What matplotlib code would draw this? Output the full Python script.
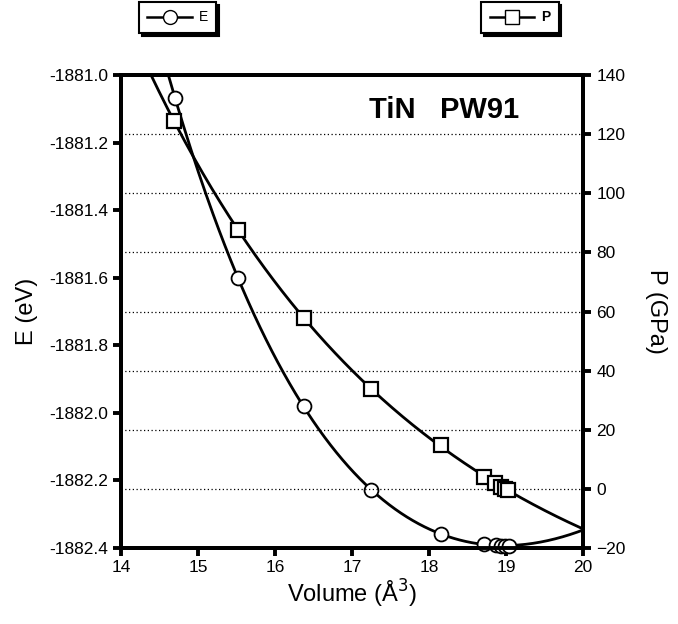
import numpy as np
import matplotlib
matplotlib.use("Agg")
import matplotlib.pyplot as plt
from matplotlib.lines import Line2D

plt.rcParams['font.family'] = ['Liberation Sans', 'DejaVu Sans']

# --- data ---
vol_E = [14.70, 15.52, 16.37, 17.25, 18.15, 18.72, 18.87, 18.94, 18.99, 19.04]
energy = [-1881.067, -1881.601, -1881.981, -1882.228, -1882.358,
          -1882.389, -1882.392, -1882.393, -1882.393, -1882.393]

vol_P = [14.69, 15.52, 16.37, 17.25, 18.16, 18.72, 18.86, 18.94, 18.99, 19.03]
pressure = [124.4, 87.6, 57.7, 33.7, 14.8, 4.1, 2.1, 0.5, -0.05, -0.4]

e_ticks = [-1881.0, -1881.2, -1881.4, -1881.6, -1881.8, -1882.0, -1882.2, -1882.4]
p_ticks = [140, 120, 100, 80, 60, 40, 20, 0, -20]

# --- Birch-Murnaghan style fits (cubic in V^-2/3) ---
vE = np.array(vol_E)
cE = np.polyfit(vE ** (-2 / 3), energy, 3)
vP = np.array(vol_P)
xP = vP ** (-2 / 3)
cP = np.polyfit(xP, np.array(pressure) / xP ** 2.5, 2)

v_fit = np.linspace(14.3, 20.0, 300)
x_fit = v_fit ** (-2 / 3)
E_fit = np.polyval(cE, x_fit)
P_fit = np.polyval(cP, x_fit) * x_fit ** 2.5

fig = plt.figure(figsize=(6.78, 6.24), dpi=100)
ax = fig.add_axes([0.1785, 0.1218, 0.6814, 0.758])
ax2 = ax.twinx()

for t in p_ticks[1:-1]:
    ax2.axhline(t, color='black', lw=0.9, ls=(0, (1, 2)), zorder=0)

ax.plot(v_fit, E_fit, color='black', lw=2, zorder=3)
ax.plot(vE, energy, 'o', ms=10, mfc='white', mec='black', mew=1.3, zorder=4, clip_on=False)
ax2.plot(v_fit, P_fit, color='black', lw=2, zorder=3)
ax2.plot(vP, pressure, 's', ms=10.5, mfc='white', mec='black', mew=1.6, zorder=4)

ax.set_xlim(14, 20)
ax.set_ylim(-1882.4, -1881.0)
ax2.set_ylim(-20, 140)
ax.set_xticks(range(14, 21))
ax.set_yticks(e_ticks)
ax.set_yticklabels([f"{t:.1f}" for t in e_ticks])
ax2.set_yticks(p_ticks)

for a in (ax, ax2):
    for s in a.spines.values():
        s.set_linewidth(2.8)
    a.tick_params(width=2.8, length=6, labelsize=12.5)
ax.tick_params(axis='x', pad=3)

ax.set_xlabel("Volume (Å$^3$)", fontsize=17, labelpad=2)
ax.set_ylabel("E (eV)", fontsize=17, labelpad=8)
ax2.set_ylabel("P (GPa)", fontsize=17, rotation=270, labelpad=30)

ax.text(18.2, -1881.105, "TiN   PW91", fontsize=21, fontweight='bold',
        ha='center', va='center')

shadow = {'color': 'black', 'alpha': 1}
hE = Line2D([], [], color='black', lw=1.8, marker='o', ms=10, mfc='white', mec='black')
hP = Line2D([], [], color='black', lw=1.8, marker='s', ms=10, mfc='white', mec='black')
legE = fig.legend([hE], ["E"], loc='center', bbox_to_anchor=(0.262, 0.972),
                  frameon=True, fancybox=False, shadow=shadow, edgecolor='black',
                  framealpha=1, fontsize=10, handlelength=3.2, borderpad=0.6,
                  handletextpad=0.5)
legE.get_frame().set_linewidth(1.5)
legP = fig.legend([hP], ["P"], loc='center', bbox_to_anchor=(0.767, 0.972),
                  frameon=True, fancybox=False, shadow=shadow, edgecolor='black',
                  framealpha=1, handlelength=3.2, borderpad=0.6,
                  handletextpad=0.5, prop={'weight': 'bold', 'size': 10})
legP.get_frame().set_linewidth(1.5)

fig.savefig("out.png", dpi=100)
